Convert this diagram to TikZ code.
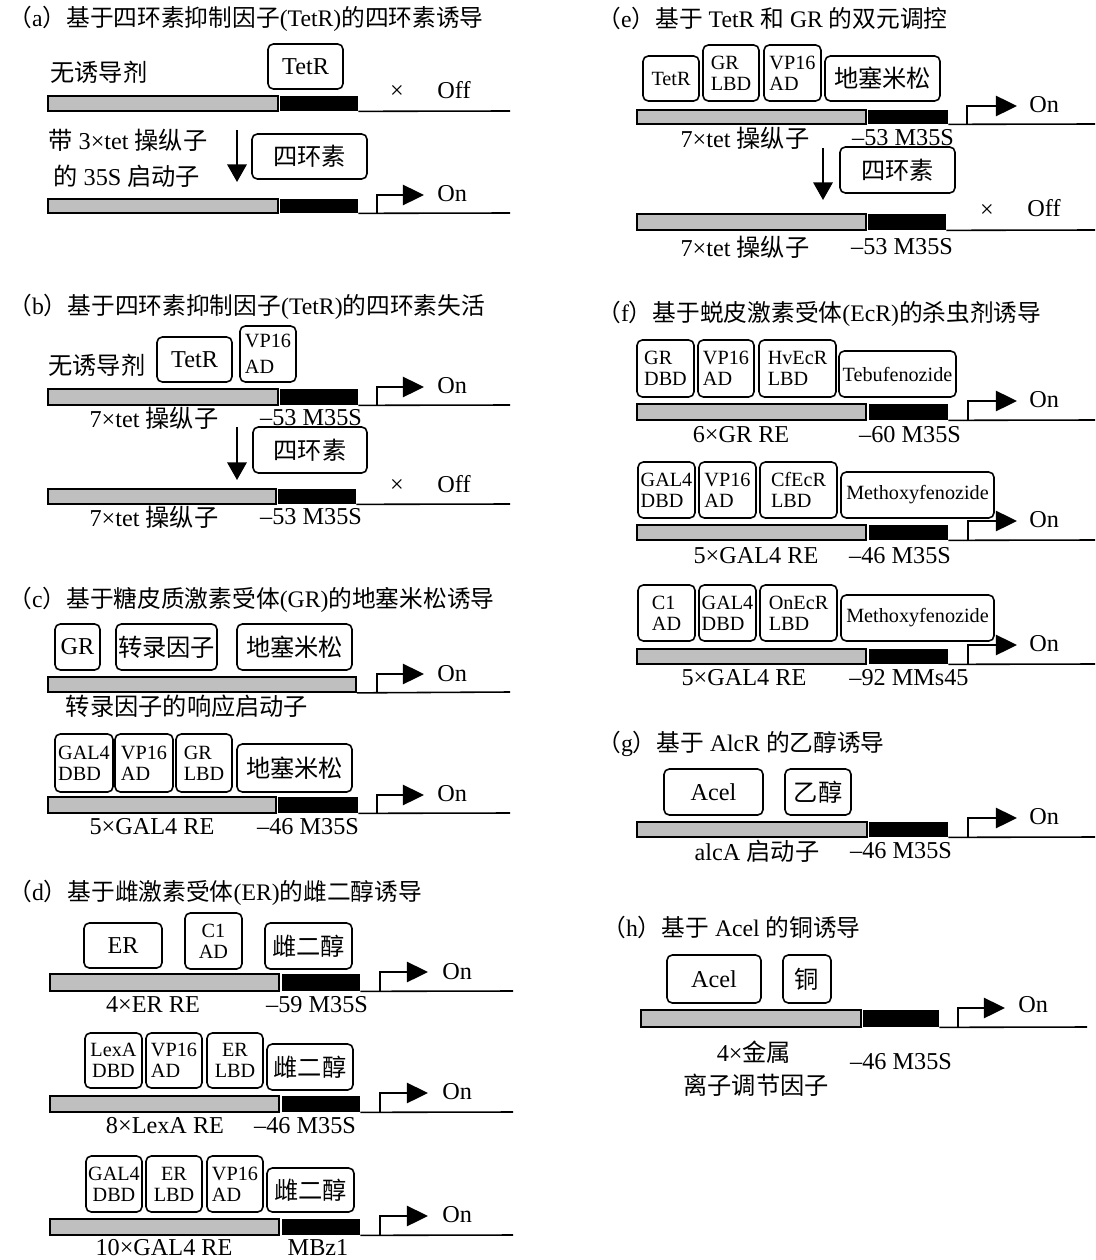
\documentclass[tikz,border=0pt]{standalone}
\usepackage{fontspec}
\setmainfont{Liberation Serif}
\newfontfamily\cjk{Noto Sans CJK SC}
\usetikzlibrary{arrows.meta}
\newcommand\zh[1]{{\cjk #1}}
\newcommand\ttlfont{\fontsize{13.5}{15}\selectfont}
\newcommand\lblfont{\fontsize{13.8}{16}\selectfont}
\newcommand\smfont{\fontsize{11.5}{12}\selectfont}
\tikzset{
 box/.style={draw, rounded corners=3pt, line width=0.9pt, inner sep=0pt, fill=white, font=\lblfont, align=center},
 smbox/.style={box, font=\smfont, align=left},
 gbar/.style={draw, fill=black!25, line width=1pt, inner sep=0pt},
 bbar/.style={fill=black, inner sep=0pt},
 dna/.style={line width=0.9pt},
 prom/.style={line width=1.1pt, -{Triangle[length=12pt,width=11.5pt]}},
 down/.style={line width=1.2pt, -{Triangle[length=10pt,width=11pt]}},
 ttl/.style={anchor=west, inner sep=0pt, font=\ttlfont},
 lbl/.style={inner sep=0pt, font=\lblfont},
}
\newcommand\mybox[7][box]{\node[#1, minimum width={(#5-#3)*0.02cm}, minimum height={(#6-#4)*0.02cm}] (#2) at ({(#3+#5)/2},{(#4+#6)/2}) {#7};}
\newcommand\gene[8]{%
 \node[gbar, minimum width={(#3-#2)*0.02cm}, minimum height={(#7-#6)*0.02cm}] (#1g) at ({(#2+#3)/2},{(#6+#7)/2}) {};
 \node[bbar, minimum width={(#5-#4)*0.02cm}, minimum height={(#7-#6)*0.02cm}] (#1b) at ({(#4+#5)/2},{(#6+#7)/2}) {};
 \coordinate (#1e) at (#8,#7);
 \draw[dna] (#1b.south east) -- (#1e);
}
\newcommand\promoter[5]{%
 \coordinate (#1p0) at (#2,#3); \coordinate (#1p1) at (#2,#4); \coordinate (#1p2) at (#5,#4);
 \draw[prom] (#1p0) -- (#1p1) -- (#1p2);
}
\begin{document}
\begin{tikzpicture}[x=0.02cm,y=-0.02cm]
\fill[white] (0,0) rectangle (1095,1260);
\path[use as bounding box] (0,0) rectangle (1095,1260);

% ---------- (a)
\node[ttl] (ta) at (8,19) {\zh{（}a\zh{）基于四环素抑制因子}(TetR)\zh{的四环素诱导}};
\node[lbl, anchor=west] (a_n) at (50,72) {\zh{无诱导剂}};
\mybox{a_tetr}{268}{44}{343}{89}{TetR}
\gene{a1}{48}{278}{280}{358}{96}{111}{510}
\node[lbl] (a_x1) at (397,92) {×};
\node[lbl, anchor=west] (a_off) at (437,90) {Off};
\node[lbl, anchor=west] (a_l1) at (48,140) {\zh{带} 3×tet \zh{操纵子}};
\node[lbl, anchor=west] (a_l2) at (53,176) {\zh{的} 35S \zh{启动子}};
\coordinate (a_d0) at (237,130); \coordinate (a_d1) at (237,182);
\draw[down] (a_d0) -- (a_d1);
\mybox{a_tet}{252}{134}{367}{179}{\zh{四环素}}
\gene{a2}{48}{278}{280}{358}{199}{213}{510}
\promoter{a2}{377}{213}{195}{424}
\node[lbl, anchor=west] (a_on) at (437,194) {On};

% ---------- (b)
\node[ttl] (tb) at (8,307) {\zh{（}b\zh{）基于四环素抑制因子}(TetR)\zh{的四环素失活}};
\node[lbl, anchor=west] (b_n) at (48,365) {\zh{无诱导剂}};
\mybox{b_tetr}{157}{337}{232}{382}{TetR}
\mybox[smbox]{b_vp}{240}{326}{296}{382}{VP16\\[3pt]AD}
\gene{b1}{48}{278}{280}{358}{389}{405}{510}
\promoter{b1}{377}{405}{387}{424}
\node[lbl, anchor=west] (b_on) at (437,386) {On};
\node[lbl] (b_l1) at (154,418) {7×tet \zh{操纵子}};
\node[lbl] (b_l2) at (311,418) {–53 M35S};
\coordinate (b_d0) at (237,427); \coordinate (b_d1) at (237,480);
\draw[down] (b_d0) -- (b_d1);
\mybox{b_tet}{253}{427}{367}{473}{\zh{四环素}}
\gene{b2}{48}{276}{278}{356}{489}{504}{510}
\node[lbl] (b_x) at (397,486) {×};
\node[lbl, anchor=west] (b_off) at (437,484) {Off};
\node[lbl] (b_l3) at (154,517) {7×tet \zh{操纵子}};
\node[lbl] (b_l4) at (311,517) {–53 M35S};

% ---------- (c)
\node[ttl] (tc) at (8,600) {\zh{（}c\zh{）基于糖皮质激素受体}(GR)\zh{的地塞米松诱导}};
\mybox{c_gr}{55}{624}{100}{670}{GR}
\mybox{c_tf}{116}{624}{217}{670}{\zh{转录因子}}
\mybox{c_dex}{237}{624}{352}{670}{\zh{地塞米松}}
\node[gbar, minimum width={308*0.02cm}, minimum height={15*0.02cm}] (c1g) at (202,684.5) {};
\coordinate (c1e) at (510,692);
\draw[dna] (c1g.south east) -- (c1e);
\promoter{c1}{377}{692}{674}{424}
\node[lbl, anchor=west] (c_on1) at (437,674) {On};
\node[lbl] (c_l1) at (187,706) {\zh{转录因子的响应启动子}};
\mybox[smbox]{c_gal}{55}{734}{113}{792}{GAL4\\DBD}
\mybox[smbox]{c_vp}{115}{734}{173}{792}{VP16\\AD}
\mybox[smbox]{c_lbd}{176}{734}{232}{792}{GR\\LBD}
\mybox{c_dex2}{237}{744}{352}{792}{\zh{地塞米松}}
\gene{c2}{48}{276}{278}{358}{797}{813}{510}
\promoter{c2}{377}{813}{795}{424}
\node[lbl, anchor=west] (c_on2) at (437,794) {On};
\node[lbl] (c_l2) at (152,827) {5×GAL4 RE};
\node[lbl] (c_l3) at (308,827) {–46 M35S};

% ---------- (d)
\node[ttl] (td) at (8,893) {\zh{（}d\zh{）基于雌激素受体}(ER)\zh{的雌二醇诱导}};
\mybox{d_er}{84}{923}{162}{968}{ER}
\mybox[smbox,align=center]{d_c1}{185}{913}{242}{969}{C1\\AD}
\mybox{d_e1}{265}{923}{352}{969}{\zh{雌二醇}}
\gene{d1}{50}{279}{282}{360}{974}{991}{513}
\promoter{d1}{380}{991}{972}{428}
\node[lbl, anchor=west] (d_on1) at (442,972) {On};
\node[lbl] (d_l1) at (153,1005) {4×ER RE};
\node[lbl] (d_l2) at (317,1005) {–59 M35S};
\mybox[smbox,align=center]{d_lex}{85}{1033}{142}{1088}{LexA\\DBD}
\mybox[smbox]{d_vp}{146}{1033}{202}{1088}{VP16\\AD}
\mybox[smbox,align=center]{d_lbd}{207}{1033}{263}{1088}{ER\\LBD}
\mybox{d_e2}{267}{1044}{353}{1090}{\zh{雌二醇}}
\gene{d2}{50}{279}{282}{360}{1096}{1112}{513}
\promoter{d2}{380}{1112}{1093}{428}
\node[lbl, anchor=west] (d_on2) at (442,1092) {On};
\node[lbl] (d_l3) at (165,1126) {8×LexA RE};
\node[lbl] (d_l4) at (305,1126) {–46 M35S};
\mybox[smbox,align=center]{d_gal}{86}{1156}{142}{1212}{GAL4\\DBD}
\mybox[smbox,align=center]{d_lbd2}{146}{1156}{202}{1212}{ER\\LBD}
\mybox[smbox]{d_vp2}{207}{1156}{263}{1212}{VP16\\AD}
\mybox{d_e3}{267}{1168}{354}{1212}{\zh{雌二醇}}
\gene{d3}{50}{279}{282}{360}{1219}{1235}{513}
\promoter{d3}{380}{1235}{1216}{428}
\node[lbl, anchor=west] (d_on3) at (442,1215) {On};
\node[lbl] (d_l5) at (164,1248) {10×GAL4 RE};
\node[lbl] (d_l6) at (318,1248) {MBz1};

% ---------- (e)
\node[ttl] (te) at (597,18) {\zh{（}e\zh{）基于} TetR \zh{和} GR \zh{的双元调控}};
\mybox[box,font=\smfont]{e_tetr}{643}{56}{699}{101}{TetR}
\mybox[smbox]{e_gr}{703}{45}{759}{101}{GR\\LBD}
\mybox[smbox]{e_vp}{764}{45}{821}{101}{VP16\\AD}
\mybox{e_dex}{825}{56}{940}{101}{\zh{地塞米松}}
\gene{e1}{637}{866}{868}{948}{110}{124}{1095}
\promoter{e1}{967}{124}{106}{1017}
\node[lbl, anchor=west] (e_on) at (1029,105) {On};
\node[lbl] (e_l1) at (745,138) {7×tet \zh{操纵子}};
\node[lbl] (e_l2) at (903,138) {–53 M35S};
\coordinate (e_d0) at (823,148); \coordinate (e_d1) at (823,200);
\draw[down] (e_d0) -- (e_d1);
\mybox{e_tet}{840}{147}{955}{193}{\zh{四环素}}
\gene{e2}{637}{866}{868}{946}{214}{230}{1095}
\node[lbl] (e_x) at (987,211) {×};
\node[lbl, anchor=west] (e_off) at (1027,208) {Off};
\node[lbl] (e_l3) at (745,247) {7×tet \zh{操纵子}};
\node[lbl] (e_l4) at (902,247) {–53 M35S};

% ---------- (f)
\node[ttl] (tf) at (597,314) {\zh{（}f\zh{）基于蜕皮激素受体}(EcR)\zh{的杀虫剂诱导}};
\mybox[smbox]{f_gr}{637}{340}{694}{397}{GR\\DBD}
\mybox[smbox]{f_vp}{698}{340}{754}{397}{VP16\\AD}
\mybox[smbox]{f_hv}{759}{340}{836}{397}{HvEcR\\LBD}
\mybox[box,font=\smfont]{f_teb}{839}{351}{956}{397}{Tebufenozide}
\gene{f1}{637}{866}{869}{948}{404}{420}{1095}
\promoter{f1}{968}{420}{401}{1017}
\node[lbl, anchor=west] (f_on1) at (1029,400) {On};
\node[lbl] (f_l1) at (741,435) {6×GR RE};
\node[lbl] (f_l2) at (910,435) {–60 M35S};
\mybox[smbox]{f_gal}{638}{462}{695}{518}{GAL4\\DBD}
\mybox[smbox]{f_vp2}{699}{462}{756}{518}{VP16\\AD}
\mybox[smbox]{f_cf}{760}{462}{837}{518}{CfEcR\\LBD}
\mybox[box,font=\smfont]{f_m1}{841}{472}{994}{518}{Methoxyfenozide}
\gene{f2}{637}{866}{869}{948}{525}{540}{1095}
\promoter{f2}{968}{540}{521}{1017}
\node[lbl, anchor=west] (f_on2) at (1029,520) {On};
\node[lbl] (f_l3) at (756,556) {5×GAL4 RE};
\node[lbl] (f_l4) at (900,556) {–46 M35S};
\mybox[smbox]{f_c1}{638}{585}{695}{641}{C1\\AD}
\mybox[smbox]{f_gal2}{699}{585}{756}{641}{GAL4\\DBD}
\mybox[smbox]{f_on}{760}{585}{837}{641}{OnEcR\\LBD}
\mybox[box,font=\smfont]{f_m2}{841}{595}{994}{641}{Methoxyfenozide}
\gene{f3}{637}{866}{869}{948}{649}{664}{1095}
\promoter{f3}{968}{664}{645}{1017}
\node[lbl, anchor=west] (f_on3) at (1029,644) {On};
\node[lbl] (f_l5) at (744,678) {5×GAL4 RE};
\node[lbl] (f_l6) at (909,678) {–92 MMs45};

% ---------- (g)
\node[ttl] (tg) at (597,744) {\zh{（}g\zh{）基于} AlcR \zh{的乙醇诱导}};
\mybox{g_acel}{664}{769}{763}{815}{Acel}
\mybox{g_eth}{785}{769}{851}{815}{\zh{乙醇}}
\gene{g1}{637}{867}{869}{948}{822}{837}{1095}
\promoter{g1}{968}{837}{818}{1017}
\node[lbl, anchor=west] (g_on) at (1029,817) {On};
\node[lbl] (g_l1) at (757,851) {alcA \zh{启动子}};
\node[lbl] (g_l2) at (901,851) {–46 M35S};

% ---------- (h)
\node[ttl] (th) at (602,927) {\zh{（}h\zh{）基于} Acel \zh{的铜诱导}};
\mybox{h_acel}{667}{955}{761}{1003}{Acel}
\mybox{h_cu}{783}{955}{831}{1003}{\zh{铜}}
\gene{h1}{641}{861}{863}{939}{1010}{1027}{1087}
\promoter{h1}{958}{1027}{1008}{1005}
\node[lbl, anchor=west] (h_on) at (1018,1005) {On};
\node[lbl] (h_l1) at (754,1052) {4×\zh{金属}};
\node[lbl] (h_l2) at (756,1085) {\zh{离子调节因子}};
\node[lbl] (h_l3) at (901,1062) {–46 M35S};
\end{tikzpicture}
\end{document}
